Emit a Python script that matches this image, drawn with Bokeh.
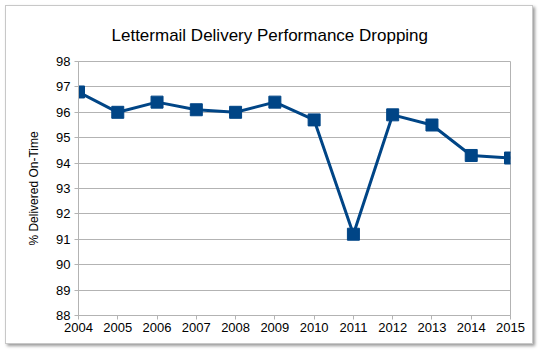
from bokeh.plotting import figure
from bokeh.models import Range1d, FixedTicker
from bokeh.embed import file_html
from bokeh.resources import INLINE

years = [2004, 2005, 2006, 2007, 2008, 2009, 2010, 2011, 2012, 2013, 2014, 2015]
on_time = [96.8, 96.0, 96.4, 96.1, 96.0, 96.4, 95.7, 91.2, 95.9, 95.5, 94.3, 94.2]
y_ticks = list(range(88, 99))

FONT = "Liberation Sans"
BLUE = "#004586"

p = figure(width=528, height=339, output_backend="svg", toolbar_location=None,
           x_range=Range1d(2004, 2015), y_range=Range1d(88, 98),
           min_border_left=72, min_border_right=24, min_border_top=0, min_border_bottom=30,
           margin=(5, 5, 5, 5),
           styles={"border": "1px solid #c8c8c8", "box-shadow": "2px 2px 3px #9a9a9a"})

p.title.text = "Lettermail Delivery Performance Dropping"
p.title.text_font = FONT
p.title.text_font_size = "17px"
p.title.text_font_style = "normal"
p.title.align = "left"
p.title.offset = 30
p.title.text_color = "#000000"
p.title.padding = 3
p.title.standoff = 28

p.line(years, on_time, line_color=BLUE, line_width=3)
p.scatter(years, on_time, marker="square", size=12, fill_color=BLUE, line_color=BLUE)

p.xaxis.ticker = FixedTicker(ticks=years)
p.yaxis.ticker = FixedTicker(ticks=y_ticks)
for ax in (p.xaxis, p.yaxis):
    ax.major_label_text_font = FONT
    ax.major_label_text_font_size = "13px"
    ax.major_label_text_color = "#000000"
    ax.axis_line_color = "#b3b3b3"
    ax.major_tick_line_color = "#b3b3b3"
    ax.major_tick_out = 4
    ax.major_tick_in = 0
    ax.minor_tick_line_color = None
p.xaxis.major_label_standoff = 3
p.yaxis.major_label_standoff = 4

p.yaxis.axis_label = "% Delivered On-Time"
p.yaxis.axis_label_text_font = FONT
p.yaxis.axis_label_text_font_size = "12px"
p.yaxis.axis_label_text_font_style = "normal"
p.yaxis.axis_label_text_color = "#000000"
p.yaxis.axis_label_standoff = 12

p.xgrid.grid_line_color = None
p.ygrid.grid_line_color = "#b3b3b3"
p.outline_line_color = "#b3b3b3"
p.background_fill_color = "#ffffff"
p.border_fill_color = "#ffffff"

open("out.html", "w").write(file_html(p, INLINE))
